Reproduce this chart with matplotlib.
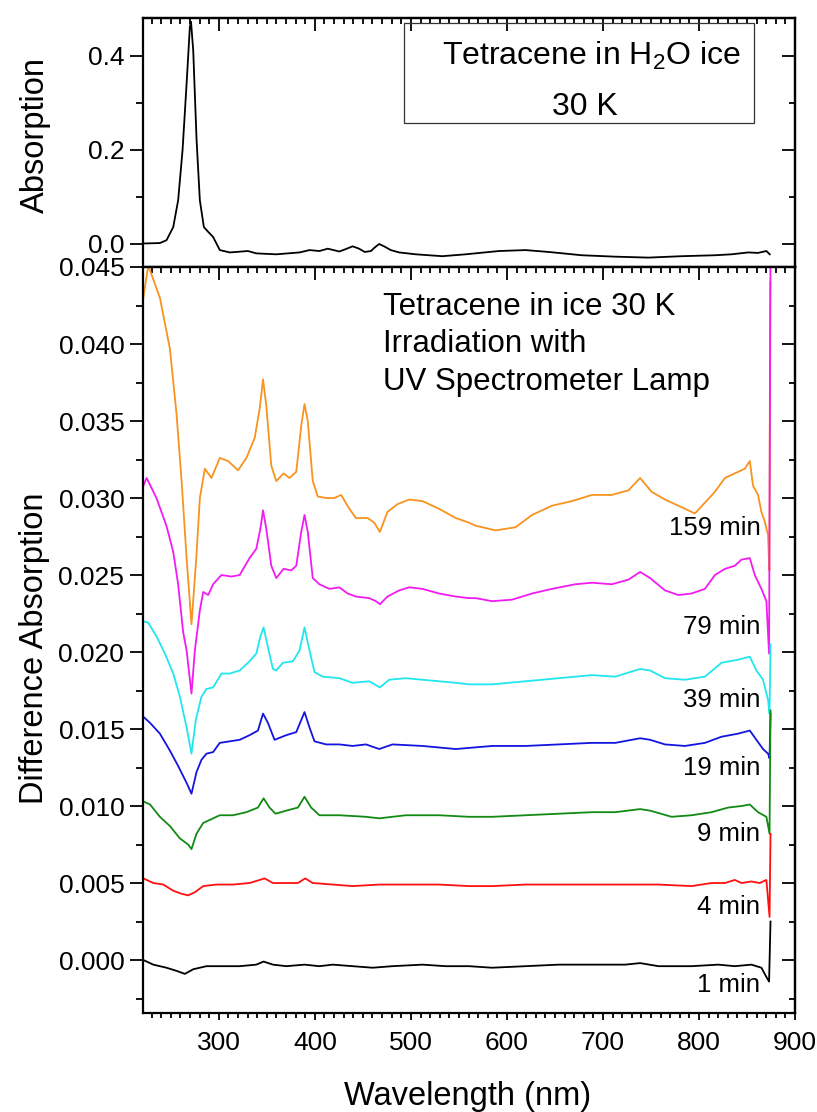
import matplotlib
matplotlib.use('Agg')
import matplotlib.pyplot as plt
from matplotlib.ticker import MultipleLocator, FormatStrFormatter
from matplotlib.patches import Rectangle

plt.rcParams['font.family'] = ['Liberation Sans', 'DejaVu Sans']
plt.rcParams['mathtext.fontset'] = 'custom'
plt.rcParams['mathtext.rm'] = 'Liberation Sans'
plt.rcParams['mathtext.it'] = 'Liberation Sans:italic'

# ---------------- data ----------------
wl_ref = [221.3, 238.6, 245.5, 252.5, 257.6, 262.2, 266.4, 269.8, 271.0, 273.3, 276.8, 280.2,
          284.4, 288.8, 294.0, 301.0, 311.4, 330.3, 339.0, 359.8, 384.0, 394.4, 404.7, 413.4,
          425.5, 432.0, 439.3, 446.0, 452.0, 458.4, 462.0, 467.0, 473.0, 479.0, 487.8, 505.0,
          532.7, 557.0, 591.6, 619.3, 643.5, 678.0, 712.7, 747.3, 781.9, 816.6, 833.9, 851.2,
          861.5, 870.2, 873.7]
abs_ref = [0.000, 0.001, 0.007, 0.035, 0.092, 0.199, 0.340, 0.461, 0.472, 0.411, 0.220, 0.092,
           0.035, 0.025, 0.014, -0.014, -0.019, -0.016, -0.021, -0.023, -0.019, -0.014, -0.016, -0.011,
           -0.017, -0.012, -0.006, -0.011, -0.018, -0.016, -0.009, -0.001, -0.007, -0.014, -0.019, -0.023,
           -0.027, -0.023, -0.016, -0.014, -0.018, -0.025, -0.028, -0.030, -0.027, -0.025, -0.023, -0.019,
           -0.020, -0.016, -0.023]

wl_159 = [221.3, 226.5, 238.6, 249.0, 256.0, 261.2, 266.4, 271.5, 276.7, 280.2, 285.4, 292.3,
          301.0, 309.6, 320.0, 328.7, 337.3, 342.5, 346.0, 349.4, 354.6, 359.8, 367.4, 373.6,
          380.6, 385.8, 389.2, 392.6, 397.8, 403.0, 411.7, 420.3, 427.3, 435.9, 442.8, 454.9,
          461.8, 467.7, 475.6, 486.0, 498.2, 512.0, 529.3, 546.7, 560.5, 567.4, 588.2, 609.0,
          626.2, 647.0, 667.7, 688.5, 709.2, 726.6, 738.7, 750.7, 764.6, 778.5, 795.8, 806.2,
          816.6, 827.0, 837.3, 847.7, 852.9, 856.3, 861.5, 865.0, 868.4, 871.9, 873.3, 874.2]
abs_159 = [0.0430, 0.0451, 0.0430, 0.0397, 0.0354, 0.0311, 0.0261, 0.0218, 0.0263, 0.0300, 0.0319, 0.0313,
           0.0326, 0.0324, 0.0318, 0.0326, 0.0339, 0.0358, 0.0377, 0.0360, 0.0321, 0.0311, 0.0316, 0.0313,
           0.0317, 0.0347, 0.0361, 0.0350, 0.0311, 0.0301, 0.0300, 0.0300, 0.0302, 0.0293, 0.0287, 0.0287,
           0.0284, 0.0278, 0.0291, 0.0296, 0.0299, 0.0298, 0.0293, 0.0287, 0.0284, 0.0282, 0.0279, 0.0281,
           0.0289, 0.0295, 0.0298, 0.0302, 0.0302, 0.0305, 0.0313, 0.0304, 0.0299, 0.0295, 0.0290, 0.0297,
           0.0304, 0.0313, 0.0316, 0.0319, 0.0324, 0.0308, 0.0302, 0.0291, 0.0285, 0.0276, 0.0253, 0.0440]

wl_79 = [221.3, 224.8, 235.0, 245.4, 252.5, 257.6, 262.8, 266.4, 271.5, 275.0, 280.2, 283.7,
         288.9, 294.0, 302.7, 313.1, 321.7, 332.0, 339.0, 343.2, 346.0, 349.4, 354.6, 359.8,
         367.4, 375.4, 380.6, 385.8, 389.2, 392.6, 397.8, 404.7, 415.1, 425.5, 434.1, 442.8,
         456.6, 463.6, 467.7, 475.6, 487.8, 498.2, 512.0, 529.3, 546.7, 560.5, 567.4, 584.6,
         605.4, 626.2, 647.0, 671.2, 688.5, 709.2, 726.6, 738.7, 749.1, 764.6, 778.5, 792.3,
         806.2, 816.6, 827.0, 837.3, 844.3, 852.9, 858.1, 865.0, 870.2, 873.0, 874.5]
abs_79 = [0.0308, 0.0313, 0.0300, 0.0282, 0.0265, 0.0244, 0.0213, 0.0201, 0.0173, 0.0201, 0.0227, 0.0239,
          0.0237, 0.0244, 0.0250, 0.0249, 0.0250, 0.0261, 0.0267, 0.0280, 0.0292, 0.0280, 0.0256, 0.0248,
          0.0254, 0.0253, 0.0256, 0.0278, 0.0289, 0.0278, 0.0248, 0.0244, 0.0241, 0.0242, 0.0238, 0.0236,
          0.0235, 0.0233, 0.0231, 0.0236, 0.0240, 0.0242, 0.0241, 0.0238, 0.0236, 0.0235, 0.0235, 0.0233,
          0.0234, 0.0238, 0.0241, 0.0244, 0.0245, 0.0244, 0.0247, 0.0252, 0.0248, 0.0240, 0.0237, 0.0238,
          0.0241, 0.0250, 0.0254, 0.0256, 0.0260, 0.0261, 0.0250, 0.0241, 0.0233, 0.0199, 0.0460]

wl_39 = [221.3, 226.5, 235.2, 243.8, 252.5, 259.4, 266.4, 271.5, 276.0, 281.9, 287.1, 294.0,
         302.7, 311.3, 321.7, 332.0, 339.0, 343.2, 346.6, 351.1, 356.3, 359.8, 366.7, 377.1,
         384.0, 389.2, 394.4, 399.6, 408.2, 425.5, 439.3, 456.6, 467.7, 477.4, 494.7, 512.0,
         529.3, 546.7, 560.5, 584.6, 619.3, 653.9, 688.5, 712.8, 738.7, 749.1, 764.6, 785.4,
         806.2, 823.5, 840.8, 852.9, 859.8, 866.7, 871.9, 873.5, 874.5]
abs_39 = [0.0220, 0.0219, 0.0210, 0.0199, 0.0186, 0.0171, 0.0151, 0.0134, 0.0156, 0.0171, 0.0176, 0.0177,
          0.0186, 0.0186, 0.0188, 0.0194, 0.0199, 0.0210, 0.0216, 0.0203, 0.0189, 0.0188, 0.0193, 0.0194,
          0.0201, 0.0216, 0.0201, 0.0187, 0.0184, 0.0183, 0.0180, 0.0181, 0.0177, 0.0182, 0.0183, 0.0182,
          0.0181, 0.0180, 0.0179, 0.0179, 0.0181, 0.0183, 0.0185, 0.0184, 0.0189, 0.0188, 0.0183, 0.0182,
          0.0184, 0.0193, 0.0195, 0.0197, 0.0188, 0.0182, 0.0169, 0.0160, 0.0205]

wl_19 = [221.3, 228.3, 238.6, 249.0, 257.6, 266.4, 271.5, 276.7, 281.9, 287.1, 294.0, 300.9,
         311.3, 321.7, 332.0, 340.7, 346.0, 351.1, 358.0, 370.2, 380.6, 389.2, 394.4, 399.6,
         411.7, 425.5, 439.3, 453.2, 467.0, 480.8, 512.0, 546.7, 584.6, 619.3, 653.9, 688.5,
         712.8, 738.7, 749.1, 764.6, 785.4, 806.2, 823.5, 840.8, 852.9, 859.8, 866.7, 871.9,
         873.5, 874.5]
abs_19 = [0.0158, 0.0154, 0.0147, 0.0136, 0.0126, 0.0115, 0.0108, 0.0122, 0.0130, 0.0134, 0.0135, 0.0141,
          0.0142, 0.0143, 0.0146, 0.0149, 0.0160, 0.0154, 0.0143, 0.0146, 0.0148, 0.0161, 0.0151, 0.0142,
          0.0140, 0.0140, 0.0139, 0.0140, 0.0137, 0.0140, 0.0139, 0.0137, 0.0139, 0.0139, 0.0140, 0.0141,
          0.0141, 0.0144, 0.0143, 0.0140, 0.0139, 0.0141, 0.0145, 0.0147, 0.0149, 0.0143, 0.0137, 0.0134,
          0.0131, 0.0160]

wl_9 = [221.3, 228.3, 238.6, 249.0, 259.4, 268.0, 271.5, 276.7, 283.7, 290.6, 300.9, 314.7,
        328.7, 340.7, 346.6, 352.8, 359.0, 370.2, 382.3, 389.2, 396.1, 404.7, 425.5, 453.2,
        467.0, 494.7, 529.3, 560.5, 584.6, 619.3, 653.9, 688.5, 712.8, 738.7, 749.1, 771.5,
        792.3, 813.1, 830.4, 844.3, 852.9, 861.5, 870.2, 873.5, 874.5]
abs_9 = [0.0103, 0.0101, 0.0093, 0.0087, 0.0079, 0.0075, 0.0072, 0.0082, 0.0089, 0.0091, 0.0094, 0.0094,
         0.0096, 0.0099, 0.0105, 0.0099, 0.0095, 0.0097, 0.0099, 0.0106, 0.0099, 0.0094, 0.0094, 0.0093,
         0.0092, 0.0094, 0.0094, 0.0093, 0.0093, 0.0094, 0.0095, 0.0096, 0.0096, 0.0098, 0.0097, 0.0093,
         0.0094, 0.0096, 0.0099, 0.0100, 0.0101, 0.0096, 0.0093, 0.0082, 0.0162]

wl_4 = [221.3, 231.7, 242.1, 252.5, 261.2, 268.0, 275.0, 283.7, 297.5, 314.7, 332.0, 342.5,
        347.6, 356.3, 370.2, 382.3, 389.9, 397.8, 418.6, 439.3, 467.0, 494.7, 529.3, 560.5,
        584.6, 619.3, 653.9, 688.5, 723.1, 757.8, 792.3, 813.1, 827.0, 837.3, 844.3, 854.6,
        863.3, 870.2, 873.5, 874.5]
abs_4 = [0.0053, 0.0050, 0.0049, 0.0045, 0.0043, 0.0042, 0.0044, 0.0048, 0.0049, 0.0049, 0.0050, 0.0052,
         0.0053, 0.0050, 0.0050, 0.0050, 0.0053, 0.0050, 0.0049, 0.0048, 0.0049, 0.0049, 0.0049, 0.0048,
         0.0048, 0.0049, 0.0049, 0.0049, 0.0049, 0.0049, 0.0048, 0.0050, 0.0050, 0.0052, 0.0050, 0.0051,
         0.0050, 0.0052, 0.0028, 0.0082]

wl_1 = [221.3, 231.7, 245.4, 255.8, 264.6, 273.3, 287.1, 304.4, 321.7, 339.0, 346.6, 356.3,
        370.2, 389.2, 404.7, 418.6, 439.3, 460.1, 480.8, 512.0, 536.3, 560.5, 584.6, 619.3,
        653.9, 688.5, 723.1, 738.7, 757.8, 792.3, 820.0, 837.3, 854.6, 865.0, 870.2, 873.0, 874.5]
abs_1 = [0.0000, -0.0003, -0.0005, -0.0007, -0.0009, -0.0006, -0.0004, -0.0004, -0.0004, -0.0003, -0.0001, -0.0003,
         -0.0004, -0.0003, -0.0004, -0.0003, -0.0004, -0.0005, -0.0004, -0.0003, -0.0004, -0.0004, -0.0005, -0.0004,
         -0.0003, -0.0003, -0.0003, -0.0002, -0.0004, -0.0004, -0.0003, -0.0004, -0.0003, -0.0005, -0.0011, -0.0014, 0.0025]

series_labels = ['159 min', '79 min', '39 min', '19 min', '9 min', '4 min', '1 min']
label_y = [0.0276, 0.0212, 0.0164, 0.0120, 0.0077, 0.0030, -0.0021]
series_wl = [wl_159, wl_79, wl_39, wl_19, wl_9, wl_4, wl_1]
series_abs = [abs_159, abs_79, abs_39, abs_19, abs_9, abs_4, abs_1]
series_colors = ['#F7931E', '#F21BF2', '#22E6EE', '#1414E0', '#138A13', '#FF1010', '#000000']

x_major = [300, 400, 500, 600, 700, 800, 900]

# ---------------- figure ----------------
W, H = 817, 1112
fig = plt.figure(figsize=(W / 100, H / 100), dpi=100)


def rect(l, t, r, b):
    return [l / W, 1 - b / H, (r - l) / W, (b - t) / H]


ax_top = fig.add_axes(rect(143, 18, 795, 267))
ax = fig.add_axes(rect(143, 267, 795, 1013))

SPW = 1.6
TW = 1.3
TLS = 19


def style_axes(a, ymaj, ymin, fmt, ylim, show_bottom):
    a.set_xlim(221, 900)
    a.set_ylim(*ylim)
    for s in a.spines.values():
        s.set_linewidth(SPW)
    a.set_xticks(x_major)
    a.xaxis.set_minor_locator(MultipleLocator(10))
    a.yaxis.set_major_locator(MultipleLocator(ymaj))
    a.yaxis.set_minor_locator(MultipleLocator(ymin))
    a.yaxis.set_major_formatter(FormatStrFormatter(fmt))
    a.tick_params(axis='y', which='major', direction='out', length=9.5, width=TW,
                  labelsize=TLS, pad=4, right=False)
    a.tick_params(axis='y', which='minor', direction='out', length=5, width=TW, right=False)
    if show_bottom:
        a.tick_params(axis='x', which='major', direction='out', length=5, width=TW,
                      labelsize=TLS, pad=8, top=False)
        a.tick_params(axis='x', which='minor', direction='out', length=3.5, width=TW, top=False)
    else:
        a.tick_params(axis='x', which='both', bottom=False, top=False, labelbottom=False)
    # mirrored inward ticks on top and right
    sx = a.secondary_xaxis('top')
    sx.set_xticks(x_major)
    sx.xaxis.set_minor_locator(MultipleLocator(10))
    sx.tick_params(which='major', direction='in', length=9.5, width=TW, labeltop=False)
    sx.tick_params(which='minor', direction='in', length=4.5, width=TW)
    sx.spines['top'].set_linewidth(SPW)
    sy = a.secondary_yaxis('right')
    sy.yaxis.set_major_locator(MultipleLocator(ymaj))
    sy.yaxis.set_minor_locator(MultipleLocator(ymin))
    sy.tick_params(which='major', direction='in', length=9.5, width=TW, labelright=False)
    sy.tick_params(which='minor', direction='in', length=4, width=TW)
    sy.spines['right'].set_linewidth(SPW)


style_axes(ax_top, 0.2, 0.1, '%.1f', (-0.05, 0.48), False)
style_axes(ax, 0.005, 0.0025, '%.3f', (-0.00344, 0.045), True)

# top panel
ax_top.plot(wl_ref, abs_ref, color='black', lw=1.3)
ax_top.add_patch(Rectangle((0.4003, 0.5783), 0.5368, 0.4016, transform=ax_top.transAxes,
                           fill=False, lw=0.9, ec='#333333'))
ax_top.text(0.687, 0.811, 'Tetracene in H$_\\mathregular{2}$O ice', transform=ax_top.transAxes,
            ha='center', va='baseline', fontsize=23)
ax_top.text(0.678, 0.610, '30 K', transform=ax_top.transAxes,
            ha='center', va='baseline', fontsize=23)

# bottom panel
for wl, ab, c in zip(series_wl, series_abs, series_colors):
    ax.plot(wl, ab, color=c, lw=1.3)
for lab, yv in zip(series_labels, label_y):
    ax.text(864, yv, lab, ha='right', va='baseline', fontsize=18.5)

for txt, yy in zip(['Tetracene in ice 30 K', 'Irradiation with', 'UV Spectrometer Lamp'],
                   [0.9357, 0.886, 0.835]):
    ax.text(0.368, yy, txt, transform=ax.transAxes, ha='left', va='baseline', fontsize=22.5)

fig.text(35 / W, 1 - 135 / H, 'Absorption', rotation=90, ha='center', va='center', fontsize=23.5)
fig.text(35 / W, 1 - 648 / H, 'Difference Absorption', rotation=90, ha='center', va='center',
         fontsize=23.5)
fig.text(468 / W, 1 - 1097 / H, 'Wavelength (nm)', ha='center', va='center', fontsize=23.5)

fig.savefig('out.png', dpi=100)
